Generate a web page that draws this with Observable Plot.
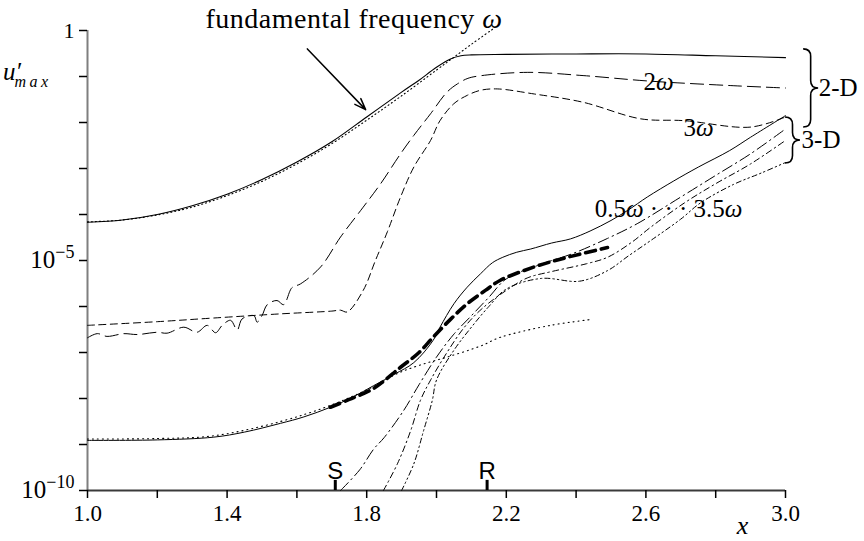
<!DOCTYPE html>
<html>
<head>
<meta charset="utf-8">
<script src="https://cdn.jsdelivr.net/npm/d3@7"></script>
<script src="https://cdn.jsdelivr.net/npm/@observablehq/plot@0.6"></script>
<style>
  html, body { margin: 0; padding: 0; background: #fff; }
  #chart svg { display: block; }
  #chart svg text { font-family: "Liberation Serif", "Times New Roman", serif; }
  #chart svg text.sans { font-family: "Liberation Sans", Arial, sans-serif; }
</style>
</head>
<body>
<div id="chart"></div>
<script>
// Each curve: [x, log10(u'max)] pairs.
// 2-D: fundamental (solid), linear theory (dotted), harmonics 2ω and 3ω (dashed).
const fund2D = [[1.0,-4.17],[1.1,-4.12],[1.2,-4.0],[1.3,-3.81],[1.4,-3.56],[1.5,-3.24],[1.6,-2.86],[1.7,-2.42],[1.8,-1.88],[1.9,-1.34],[1.95,-1.08],[2.0,-0.80],[2.04,-0.62],[2.07,-0.55],[2.1,-0.53],[2.2,-0.52],[2.4,-0.51],[2.6,-0.51],[2.8,-0.55],[3.0,-0.59]];
const lin2D = [[1.0,-4.16],[1.1,-4.12],[1.2,-4.01],[1.3,-3.84],[1.4,-3.59],[1.5,-3.28],[1.6,-2.90],[1.7,-2.46],[1.8,-1.95],[1.9,-1.42],[2.0,-0.86],[2.05,-0.58],[2.1,-0.30],[2.165,0.05]];
const harm2w = [[1.0,-6.68],[1.028,-6.59],[1.056,-6.65],[1.104,-6.59],[1.142,-6.61],[1.2,-6.56],[1.228,-6.58],[1.276,-6.45],[1.314,-6.56],[1.343,-6.41],[1.367,-6.57],[1.386,-6.41],[1.41,-6.30],[1.429,-6.51],[1.443,-6.27],[1.477,-6.20],[1.486,-6.34],[1.5,-6.20],[1.515,-5.96],[1.543,-5.87],[1.562,-5.96],[1.586,-5.59],[1.61,-5.51],[1.668,-5.14],[1.725,-4.49],[1.79,-3.84],[1.84,-3.33],[1.897,-2.68],[1.935,-2.28],[1.983,-1.81],[2.03,-1.34],[2.06,-1.16],[2.09,-1.04],[2.13,-0.98],[2.26,-0.91],[2.42,-0.98],[2.61,-1.10],[2.85,-1.20],[3.0,-1.25]];
const harm3w = [[1.0,-6.41],[1.2,-6.33],[1.362,-6.25],[1.553,-6.16],[1.7,-6.10],[1.725,-6.08],[1.744,-6.12],[1.79,-5.65],[1.825,-5.0],[1.859,-4.38],[1.897,-3.62],[1.935,-2.97],[1.983,-2.39],[2.01,-1.96],[2.05,-1.59],[2.088,-1.41],[2.126,-1.30],[2.174,-1.27],[2.28,-1.38],[2.42,-1.56],[2.585,-1.92],[2.71,-1.96],[2.90,-2.10],[3.0,-1.88]];

// 3-D: fundamental (thin solid), linear theory (dotted), bold dashed, and the 0.5ω … 3.5ω family.
const fund3D = [[1.0,-8.91],[1.2,-8.90],[1.362,-8.84],[1.45,-8.73],[1.553,-8.54],[1.62,-8.40],[1.696,-8.19],[1.76,-7.97],[1.82,-7.72],[1.88,-7.47],[1.935,-7.22],[1.99,-6.74],[2.01,-6.45],[2.05,-5.94],[2.088,-5.58],[2.126,-5.29],[2.16,-5.05],[2.19,-4.93],[2.23,-4.82],[2.27,-4.75],[2.33,-4.62],[2.384,-4.53],[2.44,-4.36],[2.5,-4.13],[2.55,-3.90],[2.604,-3.62],[2.68,-3.27],[2.75,-2.97],[2.84,-2.61],[2.9,-2.32],[3.0,-1.85]];
const lin3D = [[1.0,-8.88],[1.2,-8.87],[1.362,-8.81],[1.553,-8.50],[1.696,-8.15],[1.82,-7.74],[1.887,-7.46],[1.95,-7.28],[2.03,-7.10],[2.126,-6.86],[2.183,-6.67],[2.327,-6.41],[2.446,-6.28]];
const bold3D = [[1.696,-8.19],[1.75,-8.02],[1.82,-7.78],[1.897,-7.32],[1.95,-7.0],[1.99,-6.67],[2.04,-6.28],[2.088,-5.94],[2.14,-5.65],[2.183,-5.43],[2.28,-5.14],[2.375,-4.93],[2.49,-4.72]];
const modeA = [[1.725,-10.0],[1.78,-9.55],[1.82,-9.1],[1.85,-8.85],[1.906,-8.26],[1.95,-7.7],[2.0,-7.1],[2.05,-6.6],[2.1,-6.2],[2.15,-5.8],[2.2,-5.4],[2.3,-5.08],[2.39,-4.85],[2.49,-4.52],[2.575,-4.2],[2.7,-3.62],[2.8,-3.15],[2.9,-2.68],[3.0,-2.14]];
const modeB = [[1.848,-10.0],[1.888,-9.42],[1.926,-8.7],[1.954,-8.04],[1.983,-7.6],[2.03,-7.0],[2.08,-6.45],[2.13,-6.05],[2.2,-5.65],[2.26,-5.38],[2.33,-5.24],[2.43,-5.07],[2.49,-4.93],[2.56,-4.6],[2.613,-4.28],[2.71,-3.75],[2.8,-3.33],[2.9,-2.9],[3.0,-2.39]];
const modeC = [[1.9,-10.0],[1.935,-9.42],[1.963,-8.7],[1.988,-8.04],[2.0,-7.6],[2.05,-6.95],[2.1,-6.45],[2.15,-6.0],[2.2,-5.62],[2.3,-5.39],[2.41,-5.45],[2.49,-5.22],[2.55,-4.9],[2.613,-4.57],[2.7,-4.1],[2.756,-3.75],[2.85,-3.35],[2.93,-3.1],[3.0,-2.87]];

// Axes
const xTicks = [1.0, 1.2, 1.4, 1.6, 1.8, 2.0, 2.2, 2.4, 2.6, 2.8, 3.0];
const xTickLabels = [1.0, 1.4, 1.8, 2.2, 2.6, 3.0];
const yTickExponents = [0, -1, -2, -3, -4, -5, -6, -7, -8, -9, -10];
const yTickLabels = {"0": "1", "-5": "10^−5", "-10": "10^−10"};

// Separation and reattachment stations
const stations = [{name: "S", x: 1.71}, {name: "R", x: 2.145}];

// Curve labels [x, log10 u, text]
const curveLabels = [
  [2.636, -1.11, "2ω"],
  [2.751, -2.13, "3ω"],
  [2.665, -3.89, "0.5ω · · · 3.5ω"]
];

const u = e => 10 ** e;
const X = d => d[0];
const Y = d => 10 ** d[1];

const styles = [
  {data: fund2D, width: 1.1, dash: null},
  {data: lin2D, width: 1.1, dash: "1,3"},
  {data: harm2w, width: 1, dash: "13,6"},
  {data: harm3w, width: 1, dash: "7,4.5"},
  {data: fund3D, width: 1, dash: null},
  {data: lin3D, width: 1.1, dash: "1,4"},
  {data: modeA, width: 1, dash: "11,4,1.5,4"},
  {data: modeB, width: 1, dash: "6,3.5,1.5,3.5"},
  {data: modeC, width: 1, dash: "5,3,1.5,3,1.5,3"},
  {data: bold3D, width: 3.6, dash: "10,6"}
];

const chart = Plot.plot({
  width: 864,
  height: 541,
  marginTop: 30,
  marginRight: 79,
  marginBottom: 51,
  marginLeft: 87,
  style: {fontSize: "21px", color: "#000", background: "#fff", overflow: "visible"},
  x: {domain: [1, 3]},
  y: {type: "log", domain: [1e-10, 1]},
  marks: [
    Plot.ruleX([1], {stroke: "#7f7f7f", strokeWidth: 2}),
    Plot.ruleY([1e-10], {stroke: "#3a3a3a", strokeWidth: 2}),
    Plot.axisX(xTicks, {
      tickSize: 8, tickPadding: 6, strokeWidth: 1.5, fontSize: 23,
      tickFormat: d => xTickLabels.some(v => Math.abs(v - d) < 1e-9) ? d.toFixed(1) : ""
    }),
    Plot.axisY(yTickExponents.map(u), {
      tickSize: 8, tickPadding: 5, strokeWidth: 1.5, fontSize: 22,
      tickFormat: d => yTickLabels[String(Math.round(Math.log10(d)))] ?? ""
    }),
    ...styles.map(s => Plot.line(s.data, {
      x: X, y: Y, stroke: "#000", strokeWidth: s.width,
      strokeDasharray: s.dash ?? undefined, curve: "catmull-rom"
    })),
    Plot.ruleX(stations, {x: "x", y1: 1e-10, y2: u(-9.78), strokeWidth: 3}),
    Plot.text(stations, {x: "x", y: u(-9.58), text: "name", fontSize: 24, className: "sans"}),
    Plot.text(curveLabels, {x: d => d[0], y: d => u(d[1]), text: d => d[2], fontSize: 25}),
    Plot.text(["fundamental frequency ω"], {
      x: 1.338, y: u(0.24), text: d => d, textAnchor: "start", fontSize: 28
    }),
    Plot.arrow([{x1: 1.63, y1: u(-0.40), x2: 1.797, y2: u(-1.72)}], {
      x1: "x1", y1: "y1", x2: "x2", y2: "y2", strokeWidth: 1.5, headLength: 12, headAngle: 40
    }),
    Plot.text(["2-D"], {x: 3.095, y: u(-1.24), text: d => d, textAnchor: "start", fontSize: 25}),
    Plot.text(["3-D"], {x: 3.046, y: u(-2.39), text: d => d, textAnchor: "start", fontSize: 25}),
    Plot.text(["x"], {x: 2.877, y: u(-10.76), text: d => d, fontStyle: "italic", fontSize: 26})
  ]
});

document.getElementById("chart").append(chart);

const svg = d3.select(chart);
const sx = chart.scale("x"), sy = chart.scale("y");

// Station letters in a sans face; everything else serif.
svg.selectAll("g.sans text").classed("sans", true);
svg.selectAll("g.sans").classed("sans", false);

// Letter spacing for the long annotation.
svg.selectAll("text").filter(function () { return this.textContent.startsWith("fundamental"); })
  .attr("letter-spacing", 0.5);

// Superscript exponents on the y tick labels.
svg.selectAll('g[aria-label="y-axis tick label"] text').each(function () {
  const s = this.textContent;
  if (!s.includes("^")) return;
  const [base, exp] = s.split("^");
  const t = d3.select(this).text(null);
  t.append("tspan").attr("font-size", 25).text(base);
  t.append("tspan").attr("font-size", 18).attr("dy", "-0.55em").text(exp);
});

// Italic ω in every label.
svg.selectAll("text").each(function () {
  if (this.childElementCount || !this.textContent.includes("ω")) return;
  const parts = this.textContent.split("ω");
  const t = d3.select(this).text(null);
  parts.forEach((p, i) => {
    if (p) t.append("tspan").text(p);
    if (i < parts.length - 1) t.append("tspan").attr("font-style", "italic").text("ω");
  });
});

// Axis title u'_max set at the 10^-1 tick.
const ty = sy.apply(u(-1));
svg.append("text").attr("font-style", "italic")
  .attr("font-size", 25).attr("x", 12).attr("y", ty + 4).text("u′");
svg.append("text").attr("font-style", "italic")
  .attr("font-size", 16).attr("letter-spacing", 3.5).attr("x", 33).attr("y", ty + 11).text("max");

// Curly braces grouping the 2-D and 3-D curves.
function brace(x0, x1, e0, e1) {
  const a = sx.apply(x0), b = sx.apply(x1);
  const y0 = sy.apply(u(e0)), y1 = sy.apply(u(e1));
  const m = (y0 + y1) / 2, c = (a + b) / 2, r = (b - a) / 2;
  return `M${a},${y0} Q${c},${y0} ${c},${y0 + r} L${c},${m - r} Q${c},${m} ${b},${m} ` +
         `Q${c},${m} ${c},${m + r} L${c},${y1 - r} Q${c},${y1} ${a},${y1}`;
}
svg.append("path").attr("d", brace(3.052, 3.095, -0.41, -2.11))
  .attr("fill", "none").attr("stroke", "#000").attr("stroke-width", 1.6);
svg.append("path").attr("d", brace(3.0, 3.043, -1.89, -2.89))
  .attr("fill", "none").attr("stroke", "#000").attr("stroke-width", 1.6);
</script>
</body>
</html>
